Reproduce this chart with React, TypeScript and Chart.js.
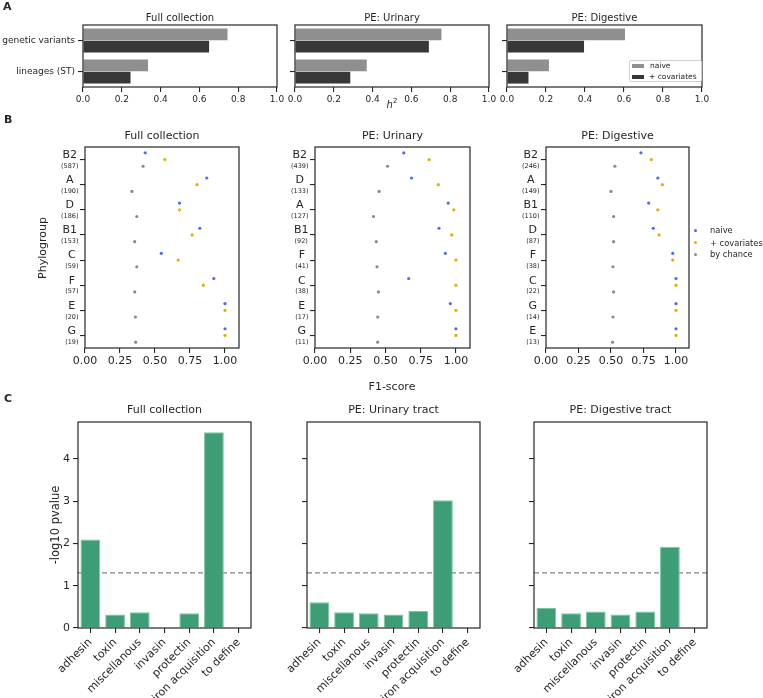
import React, { useEffect, useRef } from "react";
import { Chart, registerables } from "chart.js";

Chart.register(...registerables);

const FONT = "'DejaVu Sans', 'Liberation Sans', sans-serif";
const INK = "#262626";

// ---------- Panel A data ----------
const A_CATEGORIES = ["genetic variants", "lineages (ST)"];
const A_FULL_NAIVE = [0.745, 0.335];
const A_FULL_COV = [0.65, 0.245];
const A_URI_NAIVE = [0.755, 0.37];
const A_URI_COV = [0.69, 0.285];
const A_DIG_NAIVE = [0.605, 0.215];
const A_DIG_COV = [0.395, 0.11];
const A_TICKS = [0, 0.2, 0.4, 0.6, 0.8, 1.0];
const A_NAIVE_COLOR = "#8f8f8f";
const A_COV_COLOR = "#373737";

// ---------- Panel B data ----------
const B_FULL_GROUPS = ["B2", "A", "D", "B1", "C", "F", "E", "G"];
const B_FULL_COUNTS = [587, 190, 186, 153, 59, 57, 20, 19];
const B_FULL_NAIVE = [0.43, 0.87, 0.675, 0.82, 0.545, 0.92, 1.0, 1.0];
const B_FULL_COV = [0.57, 0.8, 0.675, 0.765, 0.665, 0.845, 1.0, 1.0];
const B_FULL_CHANCE = [0.415, 0.335, 0.37, 0.355, 0.37, 0.355, 0.36, 0.362];

const B_URI_GROUPS = ["B2", "D", "A", "B1", "F", "C", "E", "G"];
const B_URI_COUNTS = [439, 133, 127, 92, 41, 38, 17, 11];
const B_URI_NAIVE = [0.63, 0.685, 0.945, 0.88, 0.925, 0.665, 0.96, 1.0];
const B_URI_COV = [0.81, 0.875, 0.985, 0.97, 1.0, 1.0, 1.0, 1.0];
const B_URI_CHANCE = [0.515, 0.455, 0.415, 0.435, 0.44, 0.45, 0.445, 0.445];

const B_DIG_GROUPS = ["B2", "A", "B1", "D", "F", "C", "G", "E"];
const B_DIG_COUNTS = [246, 149, 110, 87, 38, 22, 14, 13];
const B_DIG_NAIVE = [0.73, 0.86, 0.79, 0.825, 0.975, 1.0, 1.0, 1.0];
const B_DIG_COV = [0.81, 0.895, 0.86, 0.87, 0.975, 1.0, 1.0, 1.0];
const B_DIG_CHANCE = [0.53, 0.5, 0.52, 0.52, 0.515, 0.52, 0.515, 0.512];

const B_X_TICKS = [0, 0.25, 0.5, 0.75, 1.0];
const B_NAIVE_COLOR = "#5067f2";
const B_COV_COLOR = "#d6b400";
const B_CHANCE_COLOR = "#8a8a8a";
const B_DODGE = 0.8 / 3;

// ---------- Panel C data ----------
const C_CATEGORIES = ["adhesin", "toxin", "miscellanous", "invasin", "protectin", "iron acquisition", "to define"];
const C_FULL = [2.09, 0.32, 0.37, 0, 0.35, 4.63, 0];
const C_URI = [0.61, 0.37, 0.35, 0.32, 0.4, 3.02, 0];
const C_DIG = [0.47, 0.35, 0.39, 0.32, 0.39, 1.92, 0];
const C_THRESHOLD = 1.301;
const C_Y_TICKS = [0, 1, 2, 3, 4];
const C_Y_MAX = 4.87;
const C_COLOR = "#3d9e76";

type Box = { L: number; T: number; R: number; B: number; yw: number; pt: number; pr: number; xh: number };

const setTicks = (vals: number[]) => (s: any) => {
  s.ticks = vals.map((v) => ({ value: v }));
};
const fixW = (w: number) => (s: any) => {
  s.width = w;
};
const fixH = (h: number) => (s: any) => {
  s.height = h;
};

const tickGrid = {
  drawOnChartArea: false,
  drawTicks: true,
  tickLength: 5,
  color: INK,
  lineWidth: 1.1,
  offset: false,
};

const framePlugin = {
  id: "frame",
  afterDatasetsDraw(chart: any) {
    const { ctx, chartArea: a } = chart;
    ctx.save();
    ctx.strokeStyle = INK;
    ctx.lineWidth = 1.2;
    ctx.strokeRect(a.left, a.top, a.right - a.left, a.bottom - a.top);
    ctx.restore();
  },
};

function baseOptions(box: Box) {
  return {
    responsive: false,
    animation: false,
    devicePixelRatio: 1,
    layout: { padding: { left: 0, top: box.pt, right: box.pr, bottom: 0 } },
    plugins: { legend: { display: false }, tooltip: { enabled: false }, title: { display: false } },
  };
}

function panelA(box: Box, naive: number[], cov: number[], showY: boolean) {
  return {
    type: "bar",
    data: {
      labels: A_CATEGORIES,
      datasets: [
        { label: "naive", data: naive, backgroundColor: A_NAIVE_COLOR, categoryPercentage: 0.8, barPercentage: 0.95 },
        { label: "+ covariates", data: cov, backgroundColor: A_COV_COLOR, categoryPercentage: 0.8, barPercentage: 0.95 },
      ],
    },
    options: {
      ...baseOptions(box),
      indexAxis: "y",
      scales: {
        x: {
          type: "linear",
          min: 0,
          max: 1,
          afterBuildTicks: setTicks(A_TICKS),
          afterFit: fixH(box.xh),
          ticks: { callback: (v: number) => Number(v).toFixed(1), font: { size: 9, family: FONT }, color: INK, padding: 2 },
          grid: tickGrid,
          border: { display: false },
        },
        y: {
          type: "category",
          offset: true,
          afterFit: fixW(box.yw),
          ticks: { display: showY, font: { size: 9, family: FONT }, color: INK, padding: 3 },
          grid: tickGrid,
          border: { display: false },
        },
      },
    },
    plugins: [framePlugin],
  };
}

function groupLabelPlugin(groups: string[], counts: number[]) {
  return {
    id: "groupLabels",
    afterDraw(chart: any) {
      const { ctx, chartArea, scales } = chart;
      const ys = scales.y;
      ctx.save();
      ctx.fillStyle = INK;
      ctx.textBaseline = "middle";
      ctx.textAlign = "center";
      groups.forEach((g, i) => {
        const py = ys.getPixelForValue(i);
        const c = `(${counts[i]})`;
        ctx.font = `11px ${FONT}`;
        const w1 = ctx.measureText(g).width;
        ctx.font = `6.5px ${FONT}`;
        const w2 = ctx.measureText(c).width;
        const cx = chartArea.left - 6.5 - Math.max(w1, w2) / 2;
        ctx.font = `11px ${FONT}`;
        ctx.fillText(g, cx, py - 4.5);
        ctx.font = `6.5px ${FONT}`;
        ctx.fillText(c, cx, py + 6.5);
      });
      ctx.restore();
    },
  };
}

function panelB(box: Box, groups: string[], counts: number[], naive: number[], cov: number[], chance: number[]) {
  const pts = (vals: number[], off: number) => vals.map((v, i) => ({ x: v, y: i + off }));
  const ds = (label: string, data: any[], color: string) => ({
    label,
    data,
    backgroundColor: color,
    borderWidth: 0,
    pointRadius: 1.6,
    pointStyle: "circle",
  });
  return {
    type: "scatter",
    data: {
      datasets: [
        ds("naive", pts(naive, -B_DODGE), B_NAIVE_COLOR),
        ds("+ covariates", pts(cov, 0), B_COV_COLOR),
        ds("by chance", pts(chance, B_DODGE), B_CHANCE_COLOR),
      ],
    },
    options: {
      ...baseOptions(box),
      scales: {
        x: {
          type: "linear",
          min: 0,
          max: 1.1,
          afterBuildTicks: setTicks(B_X_TICKS),
          afterFit: fixH(box.xh),
          ticks: { callback: (v: number) => Number(v).toFixed(2), font: { size: 11, family: FONT }, color: INK, padding: 2 },
          grid: tickGrid,
          border: { display: false },
        },
        y: {
          type: "linear",
          min: -0.5,
          max: 7.5,
          reverse: true,
          afterBuildTicks: setTicks(groups.map((_, i) => i)),
          afterFit: fixW(box.yw),
          ticks: { display: false },
          grid: tickGrid,
          border: { display: false },
        },
      },
    },
    plugins: [framePlugin, groupLabelPlugin(groups, counts)],
  };
}

const thresholdPlugin = {
  id: "threshold",
  beforeDatasetsDraw(chart: any) {
    const { ctx, chartArea: a, scales } = chart;
    const y = scales.y.getPixelForValue(C_THRESHOLD);
    ctx.save();
    ctx.strokeStyle = "#808080";
    ctx.lineWidth = 1.3;
    ctx.setLineDash([5, 3]);
    ctx.beginPath();
    ctx.moveTo(a.left, y);
    ctx.lineTo(a.right, y);
    ctx.stroke();
    ctx.restore();
  },
};

function panelC(box: Box, vals: number[], showY: boolean) {
  return {
    type: "bar",
    data: {
      labels: C_CATEGORIES,
      datasets: [
        {
          label: "-log10 pvalue",
          data: vals,
          backgroundColor: C_COLOR,
          borderColor: "#7cc4a3",
          borderWidth: { top: 1, left: 1, right: 1, bottom: 0 },
          categoryPercentage: 1,
          barPercentage: 0.8,
        },
      ],
    },
    options: {
      ...baseOptions(box),
      scales: {
        x: {
          type: "category",
          offset: true,
          afterFit: fixH(box.xh),
          ticks: {
            font: { size: 11, family: FONT },
            color: INK,
            padding: 3,
            minRotation: 45,
            maxRotation: 45,
            autoSkip: false,
          },
          grid: tickGrid,
          border: { display: false },
        },
        y: {
          type: "linear",
          min: 0,
          max: C_Y_MAX,
          afterBuildTicks: setTicks(C_Y_TICKS),
          afterFit: fixW(box.yw),
          ticks: { display: showY, font: { size: 11, family: FONT }, color: INK, padding: 3 },
          grid: tickGrid,
          border: { display: false },
        },
      },
    },
    plugins: [thresholdPlugin, framePlugin],
  };
}

function ChartBox({ box, build }: { box: Box; build: (b: Box) => any }) {
  const ref = useRef<HTMLCanvasElement>(null);
  useEffect(() => {
    const chart = new Chart(ref.current as HTMLCanvasElement, build(box));
    return () => chart.destroy();
  }, []);
  const x0 = box.L - box.yw;
  const y0 = box.T - box.pt;
  const w = box.R - box.L + box.yw + box.pr;
  const h = box.B - box.T + box.pt + box.xh;
  return (
    <canvas
      ref={ref}
      width={w}
      height={h}
      style={{ position: "absolute", left: x0, top: y0, width: w, height: h }}
    />
  );
}

function Text({
  x,
  y,
  size,
  children,
  rotate = 0,
  bold = false,
  anchor = "center",
}: {
  x: number;
  y: number;
  size: number;
  children: React.ReactNode;
  rotate?: number;
  bold?: boolean;
  anchor?: "center" | "left";
}) {
  const tx = anchor === "center" ? "-50%" : "0";
  return (
    <div
      style={{
        position: "absolute",
        left: x,
        top: y,
        transform: `translate(${tx}, -50%) rotate(${rotate}deg)`,
        fontFamily: FONT,
        fontSize: size,
        fontWeight: bold ? "bold" : "normal",
        color: INK,
        whiteSpace: "nowrap",
        lineHeight: 1,
      }}
    >
      {children}
    </div>
  );
}

const BOX_A1: Box = { L: 83, T: 25, R: 277, B: 87, yw: 83, pt: 15, pr: 14, xh: 22 };
const BOX_A2: Box = { L: 295, T: 25, R: 489, B: 87, yw: 12, pt: 15, pr: 14, xh: 22 };
const BOX_A3: Box = { L: 507, T: 25, R: 702, B: 87, yw: 12, pt: 15, pr: 20, xh: 22 };

const BOX_B1: Box = { L: 85, T: 147, R: 239, B: 348, yw: 85, pt: 12, pr: 18, xh: 22 };
const BOX_B2: Box = { L: 315, T: 147, R: 470, B: 348, yw: 50, pt: 12, pr: 18, xh: 22 };
const BOX_B3: Box = { L: 546, T: 147, R: 689, B: 348, yw: 50, pt: 12, pr: 18, xh: 22 };

const BOX_C1: Box = { L: 78, T: 422, R: 251, B: 628, yw: 78, pt: 12, pr: 12, xh: 70 };
const BOX_C2: Box = { L: 307, T: 422, R: 480, B: 628, yw: 45, pt: 12, pr: 12, xh: 70 };
const BOX_C3: Box = { L: 534, T: 422, R: 707, B: 628, yw: 45, pt: 12, pr: 12, xh: 70 };

const mid = (b: Box) => (b.L + b.R) / 2;

export default function App() {
  return (
    <div style={{ position: "absolute", left: 0, top: 0, width: 763, height: 698, background: "#fff", overflow: "hidden" }}>
      {/* Panel A */}
      <ChartBox box={BOX_A1} build={(b) => panelA(b, A_FULL_NAIVE, A_FULL_COV, true)} />
      <ChartBox box={BOX_A2} build={(b) => panelA(b, A_URI_NAIVE, A_URI_COV, false)} />
      <ChartBox box={BOX_A3} build={(b) => panelA(b, A_DIG_NAIVE, A_DIG_COV, false)} />

      {/* Panel B */}
      <ChartBox box={BOX_B1} build={(b) => panelB(b, B_FULL_GROUPS, B_FULL_COUNTS, B_FULL_NAIVE, B_FULL_COV, B_FULL_CHANCE)} />
      <ChartBox box={BOX_B2} build={(b) => panelB(b, B_URI_GROUPS, B_URI_COUNTS, B_URI_NAIVE, B_URI_COV, B_URI_CHANCE)} />
      <ChartBox box={BOX_B3} build={(b) => panelB(b, B_DIG_GROUPS, B_DIG_COUNTS, B_DIG_NAIVE, B_DIG_COV, B_DIG_CHANCE)} />

      {/* Panel C */}
      <ChartBox box={BOX_C1} build={(b) => panelC(b, C_FULL, true)} />
      <ChartBox box={BOX_C2} build={(b) => panelC(b, C_URI, false)} />
      <ChartBox box={BOX_C3} build={(b) => panelC(b, C_DIG, false)} />

      {/* Panel letters */}
      <Text x={3} y={6} size={11} bold anchor="left">A</Text>
      <Text x={4} y={119} size={11} bold anchor="left">B</Text>
      <Text x={4} y={398} size={11} bold anchor="left">C</Text>

      {/* Panel A titles & labels */}
      <Text x={mid(BOX_A1)} y={18} size={10}>Full collection</Text>
      <Text x={mid(BOX_A2)} y={18} size={10}>PE: Urinary</Text>
      <Text x={mid(BOX_A3)} y={18} size={10}>PE: Digestive</Text>
      <Text x={392} y={104} size={10}>
        <i>h</i>
        <sup style={{ fontSize: 7 }}>2</sup>
      </Text>
      <div
        style={{
          position: "absolute",
          left: 629,
          top: 60,
          width: 71,
          height: 20,
          border: "1px solid #d0d0d0",
          borderRadius: 2,
          background: "rgba(255,255,255,0.85)",
        }}
      >
        <div style={{ position: "absolute", left: 2, top: 3, width: 12, height: 4, background: A_NAIVE_COLOR }} />
        <div style={{ position: "absolute", left: 2, top: 14, width: 12, height: 4, background: A_COV_COLOR }} />
      </div>
      <Text x={650} y={65.5} size={7.5} anchor="left">naive</Text>
      <Text x={649} y={76.5} size={7.5} anchor="left">+ covariates</Text>

      {/* Panel B titles & labels */}
      <Text x={mid(BOX_B1)} y={135} size={11}>Full collection</Text>
      <Text x={mid(BOX_B2)} y={135} size={11}>PE: Urinary</Text>
      <Text x={mid(BOX_B3)} y={135} size={11}>PE: Digestive</Text>
      <Text x={41.5} y={248} size={11} rotate={-90}>Phylogroup</Text>
      <Text x={392} y={386} size={11}>F1-score</Text>
      {[
        { c: B_NAIVE_COLOR, t: "naive", y: 230 },
        { c: B_COV_COLOR, t: "+ covariates", y: 242.5 },
        { c: B_CHANCE_COLOR, t: "by chance", y: 254 },
      ].map((r) => (
        <React.Fragment key={r.t}>
          <div
            style={{
              position: "absolute",
              left: 693.5,
              top: r.y - 1.5,
              width: 3.2,
              height: 3.2,
              borderRadius: 2,
              background: r.c,
            }}
          />
          <Text x={710} y={r.y} size={8.3} anchor="left">{r.t}</Text>
        </React.Fragment>
      ))}

      {/* Panel C titles & labels */}
      <Text x={mid(BOX_C1)} y={409} size={11}>Full collection</Text>
      <Text x={mid(BOX_C2)} y={409} size={11}>PE: Urinary tract</Text>
      <Text x={mid(BOX_C3)} y={409} size={11}>PE: Digestive tract</Text>
      <Text x={56} y={525} size={11.5} rotate={-90}>-log10 pvalue</Text>
    </div>
  );
}
